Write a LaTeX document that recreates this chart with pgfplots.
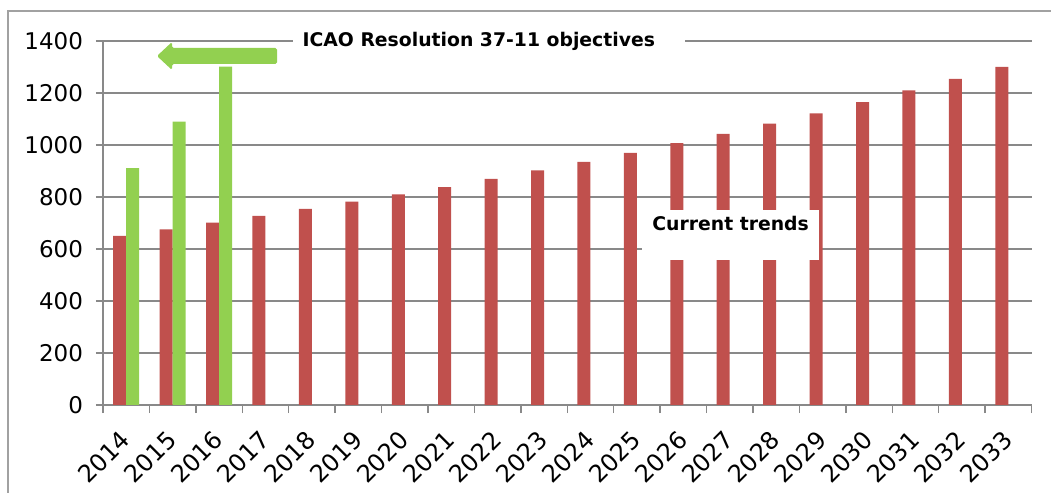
\documentclass[border=0pt]{standalone}
\usepackage{fontspec}
\setmainfont{DejaVu Sans}
\usepackage{pgfplots}
\pgfplotsset{compat=1.18}
\definecolor{barred}{HTML}{C0504D}
\definecolor{bargreen}{HTML}{92D050}
\definecolor{gridgray}{HTML}{898989}

\begin{document}
\begin{tikzpicture}
\path[use as bounding box] (0,0) rectangle (525.5pt,246.5pt);
\draw[gridgray!80,line width=0.7pt] (4pt,0pt) -- (4pt,241pt) -- (525.5pt,241pt);
\begin{axis}[
    at={(51.5pt,44pt)}, anchor=south west,
    scale only axis,
    width=464.25pt, height=182pt,
    xmin=-0.5, xmax=19.5,
    ymin=0, ymax=1400,
    ytick={0,200,...,1400},
    xtick={0,...,19},
    xticklabels={2014,2015,2016,2017,2018,2019,2020,2021,2022,2023,2024,2025,2026,2027,2028,2029,2030,2031,2032,2033},
    minor xtick={-0.5,0.5,...,19.5},
    major x tick style={draw=none},
    tick align=outside,
    major tick length=3.5pt,
    minor tick length=4pt,
    tick style={gridgray,line width=0.7pt},
    axis x line*=bottom, axis y line*=left,
    axis line style={gridgray,line width=0.7pt},
    ymajorgrids, grid style={gridgray,line width=0.7pt},
    ybar, bar width=6.5pt,
    /pgf/number format/assume math mode=true,
    /pgf/number format/1000 sep={},
    yticklabel style={font=\fontsize{11.5pt}{13pt}\selectfont, xshift=-3pt},
    xticklabel style={font=\fontsize{12pt}{14pt}\selectfont, rotate=45, anchor=north east, xshift=-5pt, yshift=0pt},
    clip=false,
]
\addplot[fill=barred, draw=none, bar shift=-3.25pt] coordinates {
    (0,650) (1,675) (2,701) (3,727) (4,754) (5,782) (6,810) (7,838) (8,870) (9,902)
    (10,935) (11,970) (12,1007) (13,1043) (14,1082) (15,1122) (16,1165) (17,1210) (18,1254) (19,1300)
};
\addplot[fill=bargreen, draw=none, bar shift=3.25pt] coordinates {
    (0,911) (1,1090) (2,1301)
};
\end{axis}
% annotation: ICAO objectives
\fill[white] (146.5pt,220.5pt) rectangle (342.5pt,231.5pt);
\node[font=\bfseries\fontsize{9.4pt}{11pt}\selectfont, inner sep=0pt] at (239.4pt,226pt) {ICAO Resolution 37-11 objectives};
\fill[bargreen, rounded corners=0.8pt] (78.5pt,218.5pt) -- (86pt,225.5pt) -- (86pt,222.5pt) -- (138.5pt,222.5pt)
    -- (138.5pt,214.5pt) -- (86pt,214.5pt) -- (86pt,211.5pt) -- cycle;
% annotation: current trends
\fill[white] (321pt,116.5pt) rectangle (409.5pt,141.5pt);
\node[font=\bfseries\fontsize{9.4pt}{11pt}\selectfont, inner sep=0pt, anchor=west] at (326pt,135pt) {Current trends};
\end{tikzpicture}
\end{document}
